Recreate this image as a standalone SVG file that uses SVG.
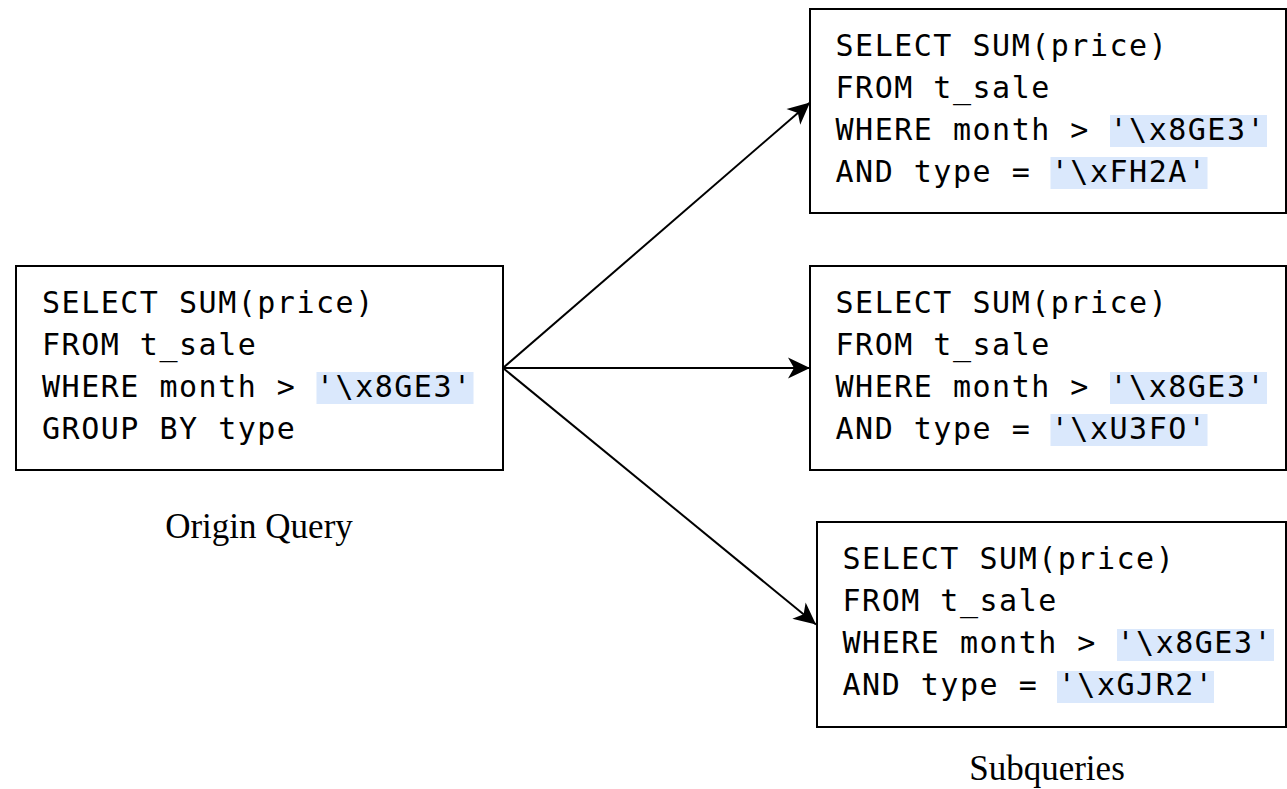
<svg xmlns="http://www.w3.org/2000/svg" width="1287" height="789" viewBox="0 0 1287 789">
<style>
.box{fill:#ffffff;stroke:#000000;stroke-width:2}
.hl{fill:#dae8fc}
.code{font-family:"DejaVu Sans Mono",monospace;font-size:30px;letter-spacing:1.51px;fill:#000000}
.cap{font-family:"Liberation Serif","Times New Roman",serif;font-size:35px;fill:#000000;text-anchor:middle}
.conn{stroke:#000000;stroke-width:2;fill:none}
</style>
<defs>
<marker id="arrow" markerUnits="userSpaceOnUse" viewBox="-23 -12 24 24" refX="0" refY="0" markerWidth="24" markerHeight="24" orient="auto">
<path d="M0,0 L-22,-10.5 L-16,0 L-22,10.5 Z" fill="#000000"/>
</marker>
</defs>
<rect width="1287" height="789" fill="#ffffff"/>
<g id="connectors">
<line class="conn" x1="503" y1="368" x2="810" y2="102.5" marker-end="url(#arrow)"/>
<line class="conn" x1="503" y1="368" x2="810" y2="368" marker-end="url(#arrow)"/>
<line class="conn" x1="503" y1="368" x2="816" y2="624.5" marker-end="url(#arrow)"/>
</g>
<g id="origin">
<rect class="box" x="16" y="266" width="487" height="204"/>
<rect class="hl" x="316.5" y="372" width="157" height="32"/>
<text class="code" x="42" y="313">SELECT SUM(price)</text>
<text class="code" x="42" y="355">FROM t_sale</text>
<text class="code" x="42" y="397">WHERE month &gt; '\x8GE3'</text>
<text class="code" x="42" y="439">GROUP BY type</text>
</g>
<g id="sub1">
<rect class="box" x="810" y="9" width="476" height="204"/>
<rect class="hl" x="1110" y="115" width="157" height="32"/>
<rect class="hl" x="1050.5" y="157" width="157" height="32"/>
<text class="code" x="835.5" y="56">SELECT SUM(price)</text>
<text class="code" x="835.5" y="98">FROM t_sale</text>
<text class="code" x="835.5" y="140">WHERE month &gt; '\x8GE3'</text>
<text class="code" x="835.5" y="182">AND type = '\xFH2A'</text>
</g>
<g id="sub2">
<rect class="box" x="810" y="266" width="476" height="204"/>
<rect class="hl" x="1110" y="372" width="157" height="32"/>
<rect class="hl" x="1050.5" y="414" width="157" height="32"/>
<text class="code" x="835.5" y="313">SELECT SUM(price)</text>
<text class="code" x="835.5" y="355">FROM t_sale</text>
<text class="code" x="835.5" y="397">WHERE month &gt; '\x8GE3'</text>
<text class="code" x="835.5" y="439">AND type = '\xU3FO'</text>
</g>
<g id="sub3">
<rect class="box" x="817" y="522" width="469" height="205"/>
<rect class="hl" x="1117" y="629" width="157" height="32"/>
<rect class="hl" x="1057" y="671" width="157" height="32"/>
<text class="code" x="842.5" y="569">SELECT SUM(price)</text>
<text class="code" x="842.5" y="611">FROM t_sale</text>
<text class="code" x="842.5" y="653">WHERE month &gt; '\x8GE3'</text>
<text class="code" x="842.5" y="695">AND type = '\xGJR2'</text>
</g>
<g id="label-origin">
<text class="cap" x="259" y="538">Origin Query</text>
</g>
<g id="label-sub">
<text class="cap" x="1047" y="780">Subqueries</text>
</g>
</svg>
